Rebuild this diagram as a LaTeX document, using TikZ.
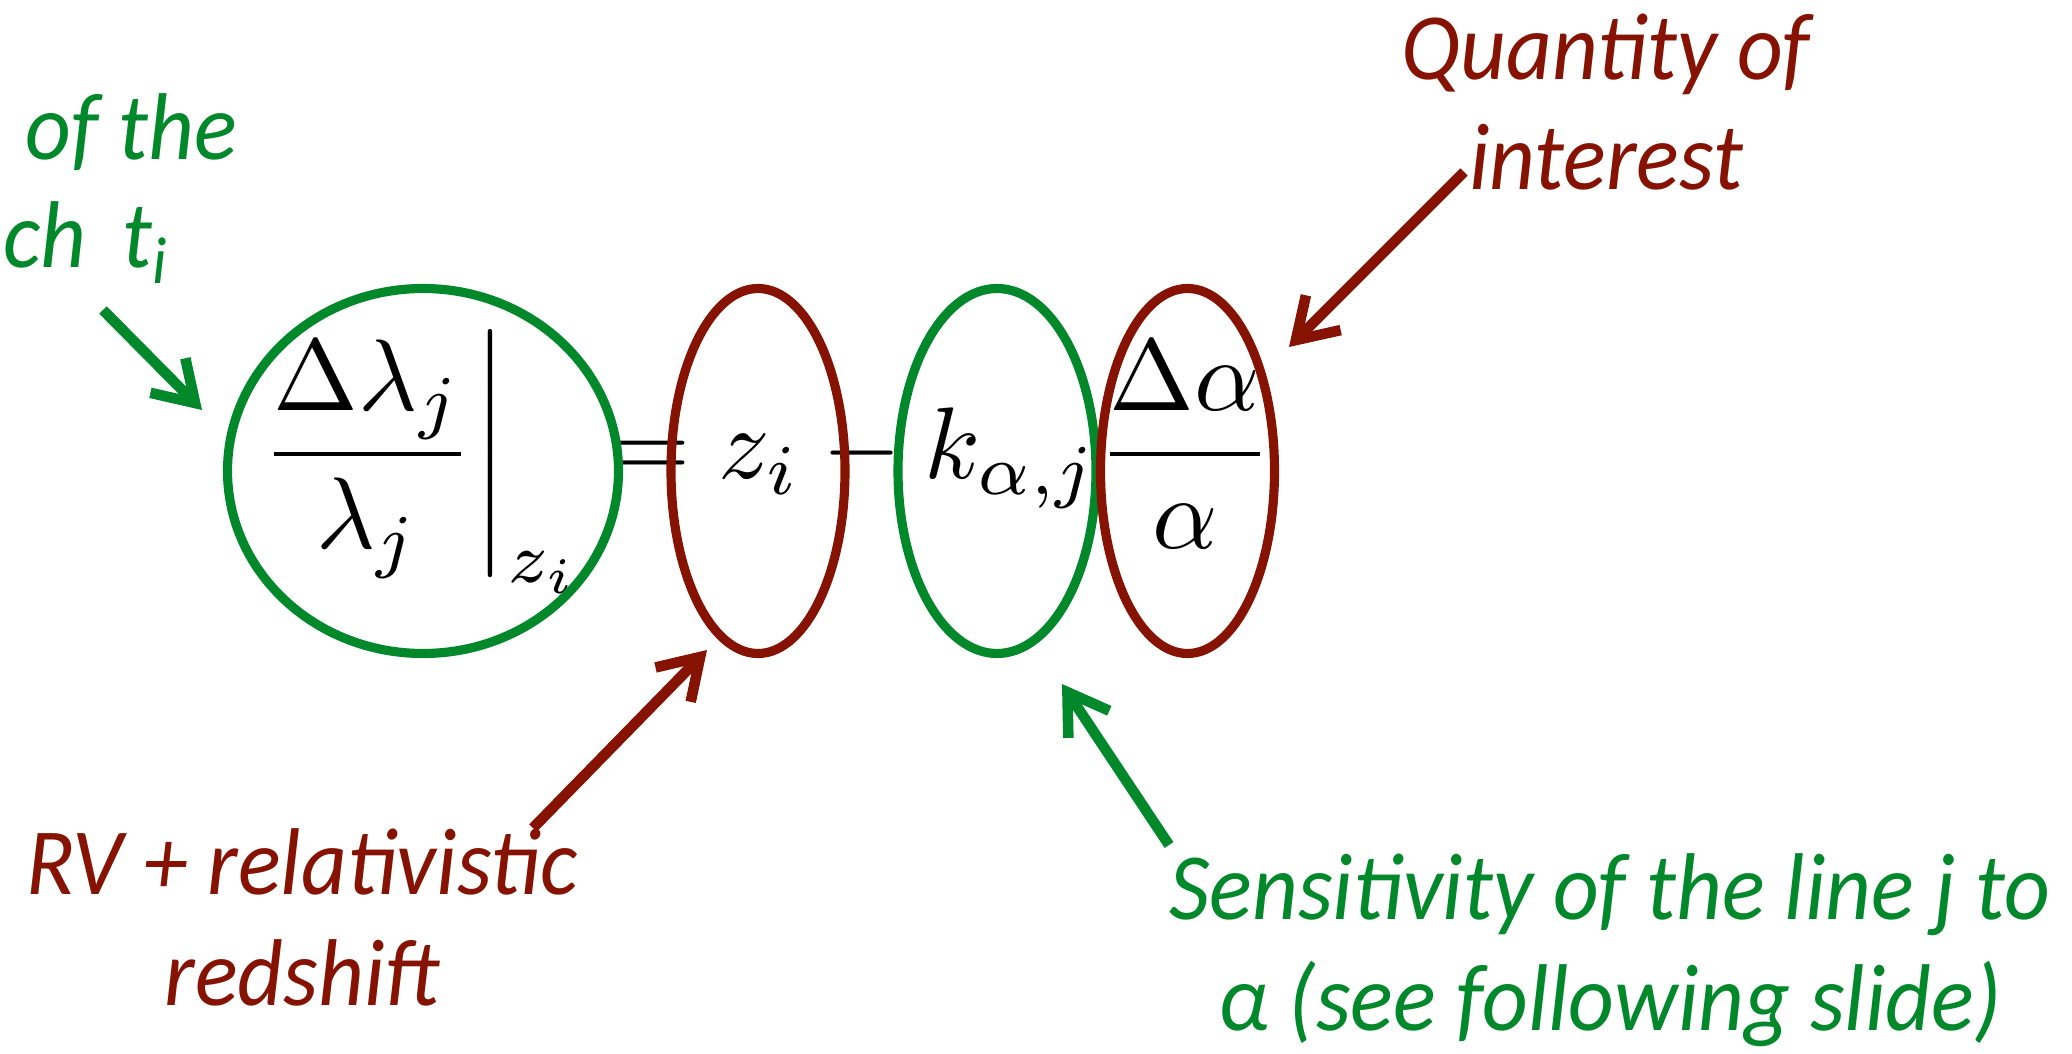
\documentclass[tikz,border=0pt]{standalone}
\usepackage{fontspec}
\newfontfamily\notefont{Carlito}[FakeStretch=0.94]
\usepackage{amsmath}
\usetikzlibrary{shapes.geometric, arrows.meta}
\definecolor{SlideGreen}{RGB}{0,136,43}
\definecolor{SlideRed}{RGB}{134,18,2}

\begin{document}
\begin{tikzpicture}[
    ring/.style={ellipse, draw, line width=2.6pt, inner sep=0pt,
                 minimum height=3.65cm},
    note/.style={font=\notefont\itshape\fontsize{27}{31.3}\selectfont,
                 align=center, inner sep=0pt, anchor=base},
    arr/.style={-{Straight Barb[length=11pt, width=14pt, sharp]},
                line width=3pt}
  ]
  \useasboundingbox (0,0) rectangle (20.72,10.53);

  % the relation
  \node[anchor=base west, inner sep=0pt, scale=2.895, transform shape]
        (eq) at (2.475,5.74)
        {$\displaystyle\left.\frac{\Delta\lambda_j}{\lambda_j}\right|_{z_i}
          = z_i - k_{\alpha,j}\frac{\Delta\alpha}{\alpha}$};

  % circled terms
  \node[ring, draw=SlideGreen, minimum width=3.91cm] (obs) at (4.23,5.82) {};
  \node[ring, draw=SlideRed,   minimum width=1.74cm] (zee) at (7.58,5.82) {};
  \node[ring, draw=SlideGreen, minimum width=1.98cm] (kay) at (9.97,5.82) {};
  \node[ring, draw=SlideRed,   minimum width=1.74cm] (dal) at (11.875,5.82) {};

  % notes (base = last line)
  \node[note, text=SlideRed] (qoi) at (16.06,8.63) {Quantity of\\interest};
  \node[note, text=SlideGreen, anchor=base west] (ofthe) at (0.25,8.93)
        {of the};
  \node[note, text=SlideGreen, anchor=base west] (epoch) at (0.03,7.85)
        {ch\, t\textsubscript{i}};
  \node[note, text=SlideRed] (rvz) at (3.02,0.48)
        {RV + relativistic\\redshift};
  \node[note, text=SlideGreen] (sens) at (16.10,0.23)
        {Sensitivity of the line j to\\α (see following slide)};

  \coordinate (epochTail) at (1.03,7.43);
  \coordinate (epochTip)  at (2.02,6.43);
  \coordinate (qoiTail)   at (14.64,8.81);
  \coordinate (qoiTip)    at (12.89,7.06);
  \coordinate (rvzTail)   at (5.33,2.25);
  \coordinate (rvzTip)    at (7.07,4.03);
  \coordinate (sensTail)  at (11.69,2.08);
  \coordinate (sensTip)   at (10.62,3.69);

  \draw[arr, SlideGreen] (epochTail) -- (epochTip);
  \draw[arr, SlideRed]   (qoiTail)   -- (qoiTip);
  \draw[arr, SlideRed]   (rvzTail)   -- (rvzTip);
  \draw[arr, SlideGreen] (sensTail)  -- (sensTip);
\end{tikzpicture}
\end{document}
